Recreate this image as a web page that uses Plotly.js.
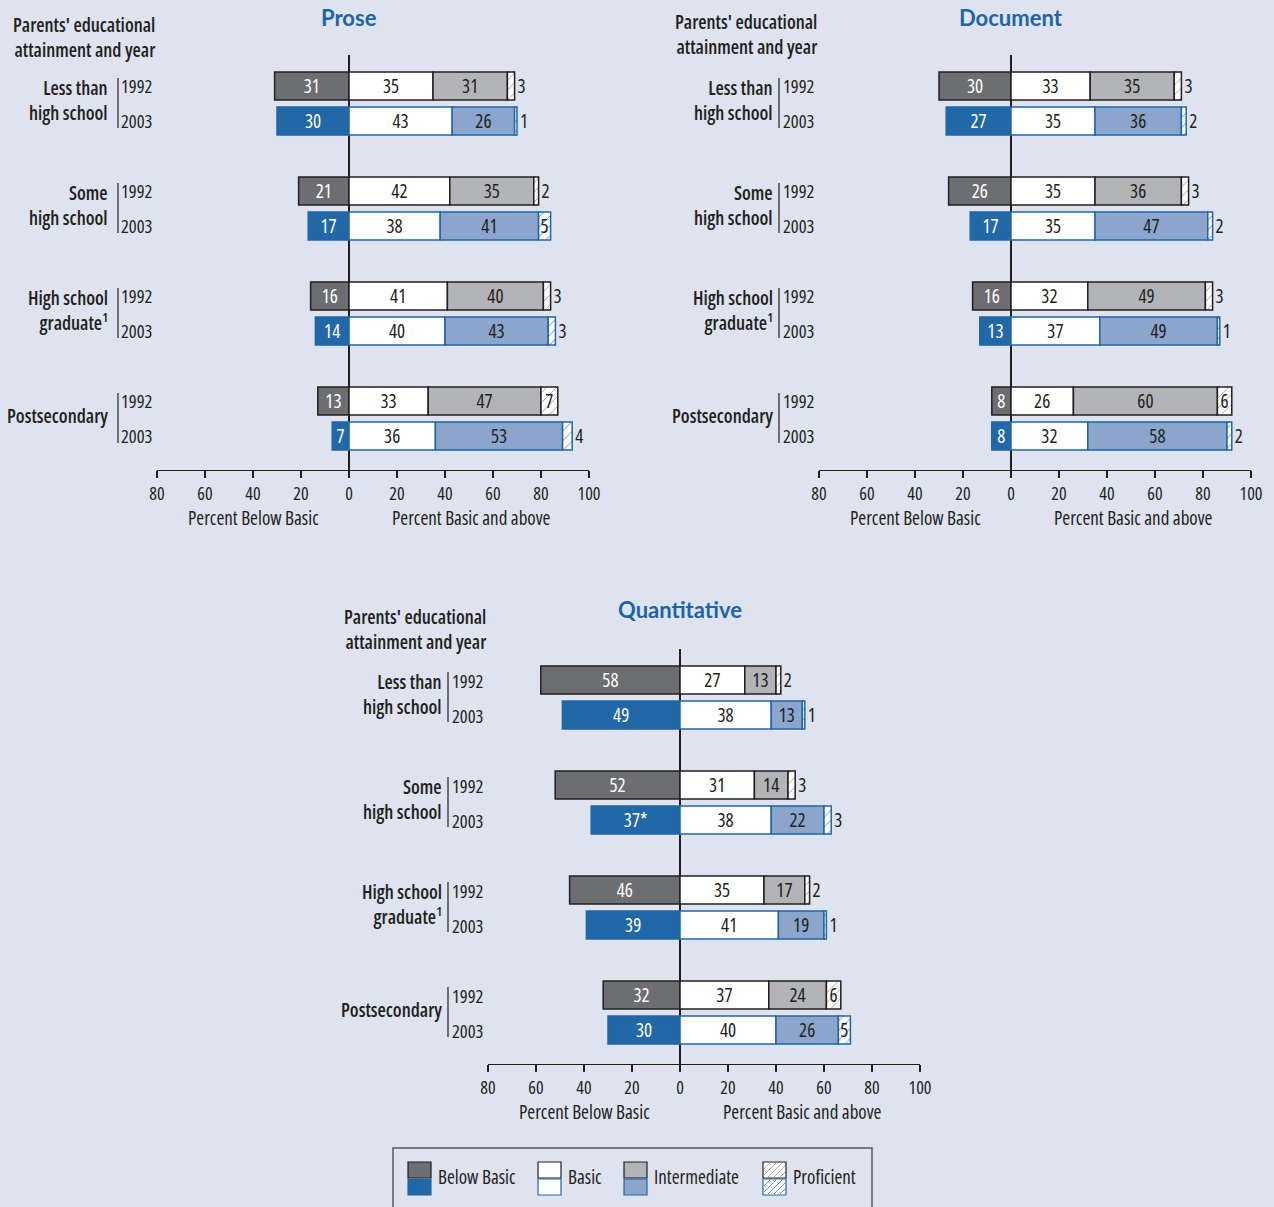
<!DOCTYPE html>
<html><head><meta charset="utf-8">
<script src="https://cdn.plot.ly/plotly-3.0.1.min.js"></script>
<style>body{margin:0;background:#dee3ef} svg text{font-stretch:75%;}</style>
</head><body><div id="chart" style="width:1274px;height:1207px"></div>
<script>
// ---------- DATA ----------
const groups = ["Less than<br>high school", "Some<br>high school", "High school<br>graduate<sup>1</sup>", "Postsecondary"];
const years = ["1992", "2003"];
const levels = ["Below Basic", "Basic", "Intermediate", "Proficient"];
// order: group0-1992, group0-2003, group1-1992, group1-2003, ...
const proseBelow = [31, 30, 21, 17, 16, 14, 13, 7];
const proseBasic = [35, 43, 42, 38, 41, 40, 33, 36];
const proseInter = [31, 26, 35, 41, 40, 43, 47, 53];
const proseProf  = [3, 1, 2, 5, 3, 3, 7, 4];

const docBelow = [30, 27, 26, 17, 16, 13, 8, 8];
const docBasic = [33, 35, 35, 35, 32, 37, 26, 32];
const docInter = [35, 36, 36, 47, 49, 49, 60, 58];
const docProf  = [3, 2, 3, 2, 3, 1, 6, 2];

const quantBelow = [58, 49, 52, 37, 46, 39, 32, 30];
const quantBelowLabels = ["58", "49", "52", "37*", "46", "39", "32", "30"];
const quantBasic = [27, 38, 31, 38, 35, 41, 37, 40];
const quantInter = [13, 13, 14, 22, 17, 19, 24, 26];
const quantProf  = [2, 1, 3, 3, 2, 1, 6, 5];

const tickVals = [-80, -60, -40, -20, 0, 20, 40, 60, 80, 100];
const tickText = ["80", "60", "40", "20", "0", "20", "40", "60", "80", "100"];
const xTitleLeft = "Percent Below Basic";
const xTitleRight = "Percent Basic and above";
const headerText = "Parents' educational<br>attainment and year";

// ---------- STYLE / LAYOUT ----------
const W = 1274, H = 1207;
const px = x => x / W, py = y => 1 - y / H;
const F = '"Open Sans", sans-serif';
const TF = 'Lato, "Liberation Sans", sans-serif';
const INK = '#231f20';
const BLUE = '#1f64a5';
const BG = '#dee3ef';
const fill = {"1992": ['#6d6e71', '#ffffff', '#b2b4b7', '#ffffff'], "2003": ['#2267a6', '#ffffff', '#8ba5cd', '#ffffff']};
const lineC = {"1992": INK, "2003": '#2166a5'};
const hatchC = {"1992": '#9a9a9a', "2003": '#3d7bc0'};

const panels = [
  {title: 'Prose', below: proseBelow, belowText: proseBelow.map(String), basic: proseBasic, inter: proseInter, prof: proseProf,
   x0: 157, r0: 86, lblRight: 110, sepX: 118, yearX: 119, headRight: 157, headY: 37, titleY: 18},
  {title: 'Document', below: docBelow, belowText: docBelow.map(String), basic: docBasic, inter: docInter, prof: docProf,
   x0: 819, r0: 86, lblRight: 775, sepX: 779, yearX: 781, headRight: 819, headY: 35, titleY: 18},
  {title: 'Quantitative', below: quantBelow, belowText: quantBelowLabels, basic: quantBasic, inter: quantInter, prof: quantProf,
   x0: 488, r0: 680, lblRight: 444, sepX: 448, yearX: 450, headRight: 488, headY: 629, titleY: 609}
];
const ROW = 35, SPAN = 432;
const yTop = -0.9, yBot = 10.97;

const traces = [];
const layout = {
  width: W, height: H, margin: {l: 0, r: 0, t: 0, b: 0},
  paper_bgcolor: BG, plot_bgcolor: BG, barmode: 'relative', showlegend: false,
  font: {family: F, color: INK, size: 18},
  annotations: [], shapes: []
};

panels.forEach((p, pi) => {
  const sfx = pi === 0 ? '' : String(pi + 1);
  const xa = 'x' + sfx, ya = 'y' + sfx;
  const series = [p.below.map(v => -v), p.basic, p.inter, p.prof];
  const texts = [p.belowText, p.basic.map(String), p.inter.map(String), p.prof.map(String)];
  years.forEach((yr, yi) => {
    const idx = p.basic.map((_, i) => i).filter(i => i % 2 === yi);
    levels.forEach((lv, li) => {
      const tr = {
        type: 'bar', orientation: 'h', xaxis: xa, yaxis: ya, name: lv + ' ' + yr,
        x: idx.map(i => series[li][i]),
        y: idx.map(i => Math.floor(i / 2) * 3 + yi),
        text: idx.map(i => texts[li][i]),
        width: 0.8, textangle: 0, constraintext: 'none', cliponaxis: false,
        insidetextanchor: 'middle',
        textfont: {family: F, size: 19, color: li === 0 ? '#ffffff' : INK},
        marker: {color: fill[yr][li], line: {color: lineC[yr], width: 1.5}},
        hoverinfo: 'skip', showlegend: false
      };
      if (li === 3) {
        tr.marker.pattern = {shape: '/', fgcolor: hatchC[yr], bgcolor: '#ffffff', size: 7, solidity: 0.12};
        tr.textposition = idx.map(i => p.prof[i] >= 5 ? 'inside' : 'outside');
        tr.outsidetextfont = {family: F, size: 19, color: INK};
      } else {
        tr.textposition = 'inside';
      }
      traces.push(tr);
    });
  });

  const domTop = p.r0 + yTop * ROW, domBot = p.r0 + yBot * ROW;
  layout['xaxis' + sfx] = {
    domain: [px(p.x0), px(p.x0 + SPAN)], anchor: ya, range: [-80, 100],
    tickvals: tickVals, ticktext: tickText, ticks: 'outside', ticklen: 7, tickwidth: 1.2, tickcolor: INK,
    showline: true, linecolor: INK, linewidth: 1.2, showgrid: false,
    zeroline: true, zerolinecolor: INK, zerolinewidth: 1.5,
    tickfont: {family: F, size: 18, color: INK}, fixedrange: true
  };
  layout['yaxis' + sfx] = {
    domain: [py(domBot), py(domTop)], anchor: xa, range: [yBot, yTop],
    showticklabels: false, showgrid: false, zeroline: false, showline: false, ticks: '', fixedrange: true
  };

  // Panel title
  layout.annotations.push({xref: xa, yref: 'paper', x: 0, y: py(p.titleY), text: '<b>' + p.title + '</b>',
    showarrow: false, xanchor: 'center', yanchor: 'middle', font: {family: TF, size: 22, color: BLUE}});
  // Header
  layout.annotations.push({xref: 'paper', yref: 'paper', x: px(p.headRight), y: py(p.headY), text: headerText,
    showarrow: false, xanchor: 'right', yanchor: 'middle', align: 'right', font: {family: F, size: 19, weight: 600, color: INK}});
  // Axis titles
  layout.annotations.push({xref: xa, yref: 'paper', x: -40, y: py(domBot + 48), text: xTitleLeft,
    showarrow: false, xanchor: 'center', yanchor: 'middle', font: {family: F, size: 19, color: INK}});
  layout.annotations.push({xref: xa, yref: 'paper', x: 51, y: py(domBot + 48), text: xTitleRight,
    showarrow: false, xanchor: 'center', yanchor: 'middle', font: {family: F, size: 19, color: INK}});
  // Group and year labels
  groups.forEach((g, gi) => {
    layout.annotations.push({xref: 'paper', yref: ya, x: px(p.lblRight), y: gi * 3 + 0.42, text: g,
      showarrow: false, xanchor: 'right', yanchor: 'middle', align: 'right', font: {family: F, size: 19, weight: 600, color: INK}});
    years.forEach((yr, yi) => {
      layout.annotations.push({xref: 'paper', yref: ya, x: px(p.yearX), y: gi * 3 + yi, text: yr,
        showarrow: false, xanchor: 'left', yanchor: 'middle', font: {family: F, size: 18.5, color: INK}});
    });
    layout.shapes.push({type: 'line', xref: 'paper', yref: ya, x0: px(p.sepX), x1: px(p.sepX),
      y0: gi * 3 - 0.23, y1: gi * 3 + 1.2, line: {color: INK, width: 1.2}});
  });
});

// ---------- LEGEND (drawn) ----------
layout.shapes.push({type: 'rect', xref: 'paper', yref: 'paper', x0: px(393), x1: px(872), y0: py(1148), y1: py(1230),
  line: {color: '#58595b', width: 1.5}, fillcolor: 'rgba(0,0,0,0)'});
const legX = [408, 538, 624, 763];
const swW = 23, topY = [1162, 1178], botY = [1179, 1195];
function hatchPath(x0, y0, x1, y1) {
  let d = '';
  const h = y1 - y0;
  for (let t = -h; t < (x1 - x0); t += 6) {
    let sx = x0 + t, sy = y1, ex = x0 + t + h, ey = y0;
    if (sx < x0) { sy = y1 - (x0 - sx); sx = x0; }
    if (ex > x1) { ey = y0 + (ex - x1); ex = x1; }
    d += 'M' + px(sx) + ',' + py(sy) + 'L' + px(ex) + ',' + py(ey);
  }
  return d;
}
levels.forEach((lv, li) => {
  years.forEach((yr, yi) => {
    const yy = yi === 0 ? topY : botY;
    layout.shapes.push({type: 'rect', xref: 'paper', yref: 'paper', x0: px(legX[li]), x1: px(legX[li] + swW),
      y0: py(yy[1]), y1: py(yy[0]), fillcolor: fill[yr][li], line: {color: lineC[yr], width: 1.2}});
    if (li === 3) {
      layout.shapes.push({type: 'path', xref: 'paper', yref: 'paper',
        path: hatchPath(legX[li] + 1, yy[0] + 1, legX[li] + swW - 1, yy[1] - 1), line: {color: hatchC[yr], width: 0.8}});
    }
  });
  layout.annotations.push({xref: 'paper', yref: 'paper', x: px(legX[li] + swW + 5), y: py(1177), text: lv,
    showarrow: false, xanchor: 'left', yanchor: 'middle', font: {family: F, size: 19, color: INK}});
});

Plotly.newPlot('chart', traces, layout, {staticPlot: true, displayModeBar: false});
</script></body></html>
